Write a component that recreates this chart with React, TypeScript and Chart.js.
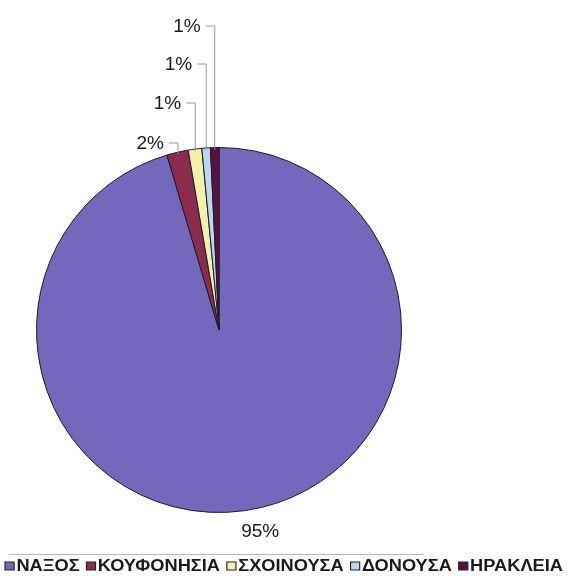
import React, { useEffect, useRef } from "react";
import { Chart, registerables } from "chart.js";

Chart.register(...registerables);

const categories = ["ΝΑΞΟΣ", "ΚΟΥΦΟΝΗΣΙΑ", "ΣΧΟΙΝΟΥΣΑ", "ΔΟΝΟΥΣΑ", "ΗΡΑΚΛΕΙΑ"];
const shares = [95.4, 1.9, 1.2, 0.75, 0.75];
const sliceColors = ["#7468bc", "#8c2c4c", "#f4f0aa", "#bcd6ee", "#5c1042"];
// label heights (y) for the small slices' callouts, index-aligned with categories
const calloutY = [0, 143, 103, 64, 26];

const FONT = "'Liberation Sans', Arial, sans-serif";

const labelPlugin = {
  id: "pieLabels",
  afterDraw(chart: any) {
    const ctx = chart.ctx;
    const meta = chart.getDatasetMeta(0);
    const data = chart.data.datasets[0].data as number[];
    const total = data.reduce((a, b) => a + b, 0);
    ctx.save();
    ctx.font = `19px ${FONT}`;
    ctx.fillStyle = "#1a1a1a";
    ctx.textBaseline = "middle";
    meta.data.forEach((arc: any, i: number) => {
      const { x, y, startAngle, endAngle, outerRadius } = arc.getProps(
        ["x", "y", "startAngle", "endAngle", "outerRadius"],
        true
      );
      const mid = (startAngle + endAngle) / 2;
      const txt = Math.round((data[i] / total) * 100) + "%";
      if (i === 0) {
        const r = outerRadius + 20;
        ctx.textAlign = "center";
        ctx.fillText(txt, x + Math.cos(mid) * r + 12, y + Math.sin(mid) * r + 1);
        return;
      }
      const px = x + Math.cos(mid) * (outerRadius - 2);
      const py = y + Math.sin(mid) * (outerRadius - 2);
      const ly = calloutY[i];
      ctx.strokeStyle = "#999";
      ctx.lineWidth = 1;
      ctx.beginPath();
      ctx.moveTo(px, py);
      ctx.lineTo(px, ly);
      ctx.lineTo(px - 9, ly);
      ctx.stroke();
      ctx.textAlign = "right";
      ctx.fillText(txt, px - 14, ly + 1);
    });
    ctx.restore();

    // legend
    ctx.save();
    ctx.strokeStyle = "#b8b8b8";
    ctx.lineWidth = 1;
    ctx.beginPath();
    ctx.moveTo(9, 554.5);
    ctx.lineTo(424, 554.5);
    ctx.stroke();
    ctx.font = `bold 16px ${FONT}`;
    ctx.textBaseline = "middle";
    ctx.textAlign = "left";
    const box = 8;
    const boxGap = 2;
    const itemGap = 6;
    const widths = categories.map((c) => ctx.measureText(c).width);
    const totalW =
      widths.reduce((a, b) => a + b, 0) +
      categories.length * (box + boxGap) +
      (categories.length - 1) * itemGap;
    const targetW = 558;
    const sx = targetW / totalW;
    const startX = (chart.width - targetW) / 2;
    ctx.translate(startX, 0);
    ctx.scale(sx, 1);
    let cx = 0;
    const cy = 566;
    categories.forEach((c, i) => {
      ctx.fillStyle = sliceColors[i];
      ctx.fillRect(cx, cy - box / 2, box, box);
      ctx.strokeStyle = "#222";
      ctx.lineWidth = 1;
      ctx.strokeRect(cx, cy - box / 2, box, box);
      cx += box + boxGap;
      ctx.fillStyle = "#1a1a1a";
      ctx.fillText(c, cx, cy + 1);
      cx += widths[i] + itemGap;
    });
    ctx.restore();
  },
};

export default function App() {
  const ref = useRef<HTMLCanvasElement | null>(null);
  useEffect(() => {
    document.body.style.margin = "0";
    const chart = new Chart(ref.current!, {
      type: "pie",
      data: {
        labels: categories,
        datasets: [
          {
            data: shares,
            backgroundColor: sliceColors,
            borderColor: "#1a1a2a",
            borderWidth: 1,
          },
        ],
      },
      options: {
        responsive: false,
        animation: false,
        layout: { padding: { left: 36, right: 166, top: 147, bottom: 63 } },
        plugins: {
          legend: { display: false },
          tooltip: { enabled: false },
        },
      },
      plugins: [labelPlugin],
    });
    return () => chart.destroy();
  }, []);
  return (
    <div style={{ width: 568, height: 576, background: "#fff" }}>
      <canvas ref={ref} width={568} height={576} style={{ display: "block" }} />
    </div>
  );
}
